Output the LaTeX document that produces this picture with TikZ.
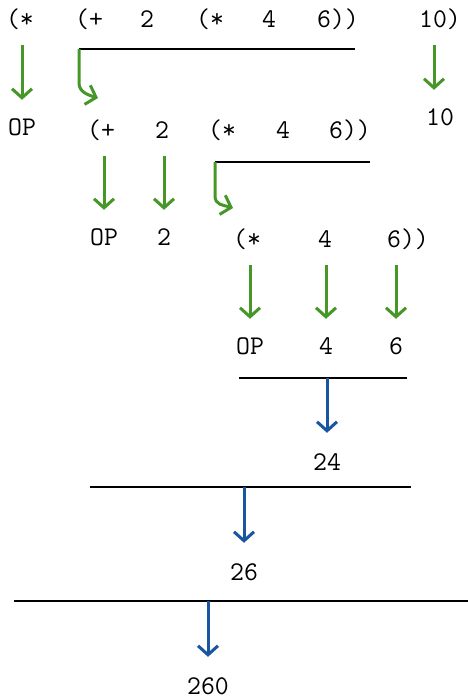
\documentclass[tikz,border=0pt]{standalone}
\usepackage{fontspec}
\usetikzlibrary{arrows.meta}

\definecolor{evalgreen}{RGB}{70,150,40}
\definecolor{evalblue}{RGB}{25,85,160}

\begin{document}
\begin{tikzpicture}[
  x=1pt, y=-1pt,
  tok/.style={inner sep=0pt, anchor=base,
              text height=16pt, text depth=3pt,
              font=\ttfamily\fontsize{27}{32}\selectfont},
  garrow/.style={-{Straight Barb[length=9pt,width=20pt]}, line width=3pt,
                 evalgreen, shorten <=15pt, shorten >=19pt},
  hook/.style={-{Straight Barb[length=9pt,width=20pt]}, line width=3pt,
               evalgreen},
  barrow/.style={-{Straight Barb[length=9pt,width=20pt]}, line width=3pt,
                 evalblue, shorten >=21pt},
  bar/.style={line width=1.2pt, black}
]
\useasboundingbox (0,0) rectangle (468,699);

% Row 1: whole expression
\node[tok] (r1mul)  at (20,27)  {(*};
\node[tok] (r1add)  at (89,27)  {(+};
\node[tok] (r1two)  at (147,27) {2};
\node[tok] (r1mul2) at (210,27) {(*};
\node[tok] (r1four) at (269,27) {4};
\node[tok] (r1six)  at (338,27) {6))};
\node[tok] (r1ten)  at (440,27) {10)};

% Row 2
\node[tok] (r2op)   at (22,135)  {OP};
\node[tok] (r2ten)  at (440,125) {10};
\node[tok] (r2add)  at (101,138) {(+};
\node[tok] (r2two)  at (162,138) {2};
\node[tok] (r2mul)  at (222,138) {(*};
\node[tok] (r2four) at (283,138) {4};
\node[tok] (r2six)  at (350,138) {6))};

% Row 3
\node[tok] (r3op)   at (104,245) {OP};
\node[tok] (r3two)  at (164,245) {2};
\node[tok] (r3mul)  at (247,247) {(*};
\node[tok] (r3four) at (325,247) {4};
\node[tok] (r3six)  at (408,247) {6))};

% Row 4
\node[tok] (r4op)   at (250,354) {OP};
\node[tok] (r4four) at (326,354) {4};
\node[tok] (r4six)  at (396,354) {6};

% Results
\node[tok] (v24)  at (327,470) {24};
\node[tok] (v26)  at (244,580) {26};
\node[tok] (v260) at (208,694) {260};

% Bars
\coordinate (l1a) at (79,49);   \coordinate (l1b) at (355,49);
\coordinate (l2a) at (215,162); \coordinate (l2b) at (370,162);
\coordinate (l3a) at (239,378); \coordinate (l3b) at (407,378);
\coordinate (l4a) at (90,487);  \coordinate (l4b) at (411,487);
\coordinate (l5a) at (14,601);  \coordinate (l5b) at (468,601);
\draw[bar] (l1a) -- (l1b);
\draw[bar] (l2a) -- (l2b);
\draw[bar] (l3a) -- (l3b);
\draw[bar] (l4a) -- (l4b);
\draw[bar] (l5a) -- (l5b);

% Green arrows (split)
\draw[garrow] (r1mul.south -| r2op) -- (r2op.north);
\draw[garrow] ([xshift=-6pt]r1ten.south) -- ([xshift=-6pt]r2ten.north);
\draw[garrow] (r2add.south -| r3op) -- (r3op.north);
\draw[garrow] (r2two.south -| r3two) -- (r3two.north);
\draw[garrow] (r3mul.south -| r4op) -- (r4op.north);
\draw[garrow] (r3four.south -| r4four) -- (r4four.north);
\draw[garrow] (r3six.south -| r4six) -- (r4six.north);

% Hooks into sub-expressions
\draw[hook] (l1a) -- ++(0,34) .. controls +(0,9) and +(-10,-3) .. ++(19,15);
\draw[hook] (l2a) -- ++(0,34) .. controls +(0,9) and +(-10,-3) .. ++(18,12);

% Blue arrows (results)
\draw[barrow] (v24 |- l3a) -- (v24.north);
\draw[barrow] (v26 |- l4a) -- (v26.north);
\draw[barrow] (v260 |- l5a) -- (v260.north);

\end{tikzpicture}
\end{document}
